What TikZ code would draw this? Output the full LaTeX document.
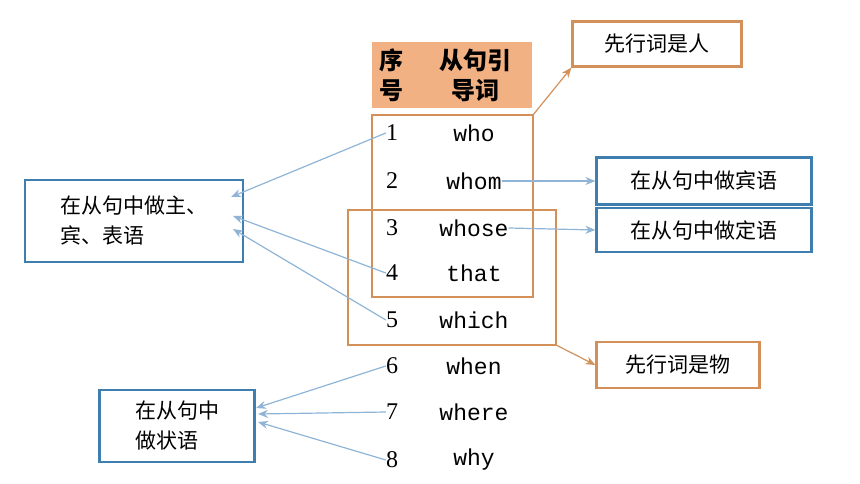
\documentclass[tikz,border=0pt]{standalone}
\usepackage{fontspec}
\usetikzlibrary{arrows.meta}
\setmainfont{Liberation Serif}
\newfontfamily\cjk{Noto Sans CJK SC}
\newfontfamily\mono{Liberation Mono}
\definecolor{ob}{HTML}{D39058}
\definecolor{ofill}{HTML}{F2B183}
\definecolor{bb}{HTML}{3F7FAF}
\definecolor{ar}{HTML}{8FB4D6}
\begin{document}
\begin{tikzpicture}[x=1pt,y=-1pt,
  obox/.style={draw=ob,line width=2.2pt},
  bbox/.style={draw=bb,line width=2.2pt,fill=white},
  lab/.style={font=\cjk\fontsize{21}{30}\selectfont,inner sep=0pt},
  num/.style={font=\fontsize{24}{26}\selectfont,inner sep=0pt},
  wd/.style={font=\mono\fontsize{23}{26}\selectfont,inner sep=0pt},
  arr/.style={draw=ar,line width=1.2pt,-{Stealth[length=10pt,width=8pt]}},
  oarr/.style={draw=ob,line width=1.2pt,-{Stealth[length=10pt,width=8pt]}}]
\useasboundingbox (0,0) rectangle (860,484);
\fill[ofill] (372,42) rectangle (532,108);
\node[font=\cjk\bfseries\fontsize{24}{30}\selectfont,align=center] (h1) at (391,75) {序\\号};
\node[font=\cjk\bfseries\fontsize{24}{30}\selectfont,align=center] (h2) at (475,75) {从句引\\导词};
\draw[obox] (372,115) rectangle (533,297);
\draw[obox] (348,210) rectangle (556,345);
\coordinate (c1) at (533,115);
\coordinate (c2) at (556,345);
\foreach \i/\w/\y in {1/who/133,2/whom/181,3/whose/228,4/that/273,5/which/320,6/when/366,7/where/412,8/why/460}{
  \node[num] (n\i) at (392,\y) {\i};
  \node[wd] (w\i) at (474,\y) {\w};
}
\node[obox,lab,fill=white,minimum width=169pt,minimum height=45pt] (r) at (657,44) {先行词是人};
\node[obox,lab,fill=white,minimum width=163pt,minimum height=46pt] (t) at (678,365) {先行词是物};
\node[bbox,lab,minimum width=215pt,minimum height=47pt] (b1) at (704,181) {在从句中做宾语};
\node[bbox,lab,minimum width=215pt,minimum height=44pt] (b2) at (704,230) {在从句中做定语};
\node[bbox,lab,minimum width=218pt,minimum height=82pt,align=left] (s) at (134,221) {在从句中做主、\\宾、表语};
\node[bbox,lab,minimum width=155pt,minimum height=72pt,align=left] (z) at (177,426) {在从句中\\做状语};
\draw[oarr] (c1) -- (r.south west);
\draw[oarr] (c2) -- (t.west);
\draw[arr] (w2.east) -- (b1.west);
\draw[arr] (w3.east) -- (b2.west);
\draw[arr] (n1.west) -- (231,197);
\draw[arr] (n4.west) -- (233,216);
\draw[arr] (n5.west) -- (233,229);
\draw[arr] (n6.west) -- (256,408);
\draw[arr] (n7.west) -- (258,414);
\draw[arr] (n8.west) -- (258,422);
\end{tikzpicture}
\end{document}
